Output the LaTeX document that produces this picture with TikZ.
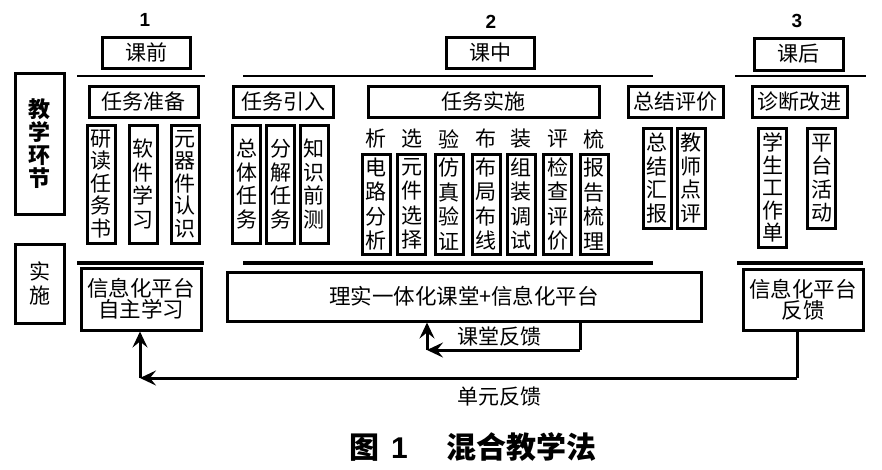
\documentclass[tikz,border=0pt]{standalone}
\usepackage{fontspec}
\setmainfont{Noto Sans CJK SC}
\newfontfamily\numfont{Liberation Sans}
\usetikzlibrary{arrows.meta}
\begin{document}
\begin{tikzpicture}[x=1pt,y=-1pt,
  box/.style={draw,line width=3pt,inner sep=0pt,align=center,font=\fontsize{21}{22}\selectfont},
  vbox/.style={box,minimum width=28,font=\fontsize{21}{23.5}\selectfont},
  lbl/.style={inner sep=0pt,font=\fontsize{21}{22}\selectfont},
  num/.style={inner sep=0pt,font=\numfont\bfseries\fontsize{19}{20}\selectfont},
  thinrule/.style={line width=2pt},
  thickrule/.style={line width=3.6pt},
  fb/.style={line width=3pt,-{Stealth[length=16pt,width=15pt,inset=6pt]}},
  fbline/.style={line width=3pt}]
\useasboundingbox (0,0) rectangle (882,469);
% stage numbers
\node[num] (n1) at (145,20) {1};
\node[num] (n2) at (491,22) {2};
\node[num] (n3) at (797,21) {3};
% stage boxes
\node[box,minimum width=88,minimum height=31] (kq) at (146,52.5) {课前};
\node[box,minimum width=88,minimum height=31] (kz) at (490,52.5) {课中};
\node[box,minimum width=89,minimum height=32] (kh) at (798.5,54) {课后};
% top rules
\coordinate (t1a) at (77,76); \coordinate (t1b) at (205,76);
\coordinate (t2a) at (243,76); \coordinate (t2b) at (653,76);
\coordinate (t3a) at (735,76); \coordinate (t3b) at (866,76);
\draw[thinrule] (t1a) -- (t1b);
\draw[thinrule] (t2a) -- (t2b);
\draw[thinrule] (t3a) -- (t3b);
% left labels
\node[box,minimum width=49,minimum height=141,font=\bfseries\fontsize{22}{23}\selectfont] (jxhj) at (39.5,143.5) {教\\学\\环\\节};
\node[box,minimum width=49,minimum height=79,font=\fontsize{21}{24}\selectfont] (ss) at (39.5,283.5) {实\\施};
% second level
\node[box,minimum width=109,minimum height=31] (rwzb) at (143.5,101.5) {任务准备};
\node[box,minimum width=100,minimum height=31] (rwyr) at (283,101.5) {任务引入};
\node[box,minimum width=231,minimum height=31] (rwss) at (483.5,101.5) {任务实施};
\node[box,minimum width=95,minimum height=31] (zjpj) at (675.5,101.5) {总结评价};
\node[box,minimum width=95,minimum height=31] (zdgj) at (799.5,101.5) {诊断改进};
% vertical boxes
\node[vbox,minimum height=118,font=\fontsize{21}{22.5}\selectfont] (v1) at (101,184) {研\\读\\任\\务\\书};
\node[vbox,minimum height=118] (v2) at (143,184) {软\\件\\学\\习};
\node[vbox,minimum height=118,font=\fontsize{21}{22.5}\selectfont] (v3) at (185,184) {元\\器\\件\\认\\识};
\node[vbox,minimum height=118] (v4) at (246.5,184) {总\\体\\任\\务};
\node[vbox,minimum height=118] (v5) at (280.5,184) {分\\解\\任\\务};
\node[vbox,minimum height=118] (v6) at (314,184) {知\\识\\前\\测};
\node[vbox,minimum height=100,font=\fontsize{21}{24.5}\selectfont] (s1) at (376,204) {电\\路\\分\\析};
\node[vbox,minimum height=100,font=\fontsize{21}{24.5}\selectfont] (s2) at (411.5,204) {元\\件\\选\\择};
\node[vbox,minimum height=100,font=\fontsize{21}{24.5}\selectfont] (s3) at (449,204) {仿\\真\\验\\证};
\node[vbox,minimum height=100,font=\fontsize{21}{24.5}\selectfont] (s4) at (486,204) {布\\局\\布\\线};
\node[vbox,minimum height=100,font=\fontsize{21}{24.5}\selectfont] (s5) at (521,204) {组\\装\\调\\试};
\node[vbox,minimum height=100,font=\fontsize{21}{24.5}\selectfont] (s6) at (557.5,204) {检\\查\\评\\价};
\node[vbox,minimum height=100,font=\fontsize{21}{24.5}\selectfont] (s7) at (594,204) {报\\告\\梳\\理};
\node[lbl] (l1) at (s1.center |- 0,139) {析};
\node[lbl] (l2) at (s2.center |- 0,139) {选};
\node[lbl] (l3) at (s3.center |- 0,139) {验};
\node[lbl] (l4) at (s4.center |- 0,139) {布};
\node[lbl] (l5) at (s5.center |- 0,139) {装};
\node[lbl] (l6) at (s6.center |- 0,139) {评};
\node[lbl] (l7) at (s7.center |- 0,139) {梳};
\node[vbox,minimum height=100] (z1) at (657,178) {总\\结\\汇\\报};
\node[vbox,minimum height=100] (z2) at (691,178) {教\\师\\点\\评};
\node[vbox,minimum height=119,font=\fontsize{21}{22.5}\selectfont] (h1) at (772.5,187.5) {学\\生\\工\\作\\单};
\node[vbox,minimum height=100] (h2) at (821.5,178) {平\\台\\活\\动};
% bottom rules
\coordinate (b1a) at (77,263); \coordinate (b1b) at (204,263);
\coordinate (b2a) at (243,263); \coordinate (b2b) at (653,263);
\coordinate (b3a) at (737,263); \coordinate (b3b) at (863,263);
\draw[thickrule] (b1a) -- (b1b);
\draw[thickrule] (b2a) -- (b2b);
\draw[thickrule] (b3a) -- (b3b);
% implementation boxes
\node[box,minimum width=120,minimum height=62,font=\fontsize{21.5}{21}\selectfont] (zzxx) at (141,299) {信息化平台\\自主学习};
\node[box,minimum width=474,minimum height=49,font=\fontsize{21.5}{22}\selectfont] (lsyt) at (464,296.5) {理实一体化课堂+信息化平台};
\node[box,minimum width=120,minimum height=61,font=\fontsize{21.5}{21}\selectfont] (ptfk) at (803,299.5) {信息化平台\\反馈};
% classroom feedback
\coordinate (c1) at (580,350);
\coordinate (c2) at (427,350);
\draw[fbline] (lsyt.south -| c1) -- (c1);
\draw[fb] (c1) -- (c2);
\draw[fb] (c2) -- (c2 |- lsyt.south);
\node[lbl] (ktfk) at (499,337) {课堂反馈};
% unit feedback
\coordinate (u1) at (797,378);
\coordinate (u2) at (140,378);
\draw[fbline] (ptfk.south -| u1) -- (u1);
\draw[fb] (u1) -- (u2);
\draw[fb] (u2) -- (u2 |- zzxx.south);
\node[lbl] (dyfk) at (499,397) {单元反馈};
% caption
\node[inner sep=0pt,font=\fontsize{30}{31}\selectfont] (cap) at (473,447) {\textbf{图}\hspace{0.4em}{\numfont\bfseries 1}\hspace{1.3em}\textbf{混合教学法}};
\end{tikzpicture}
\end{document}
